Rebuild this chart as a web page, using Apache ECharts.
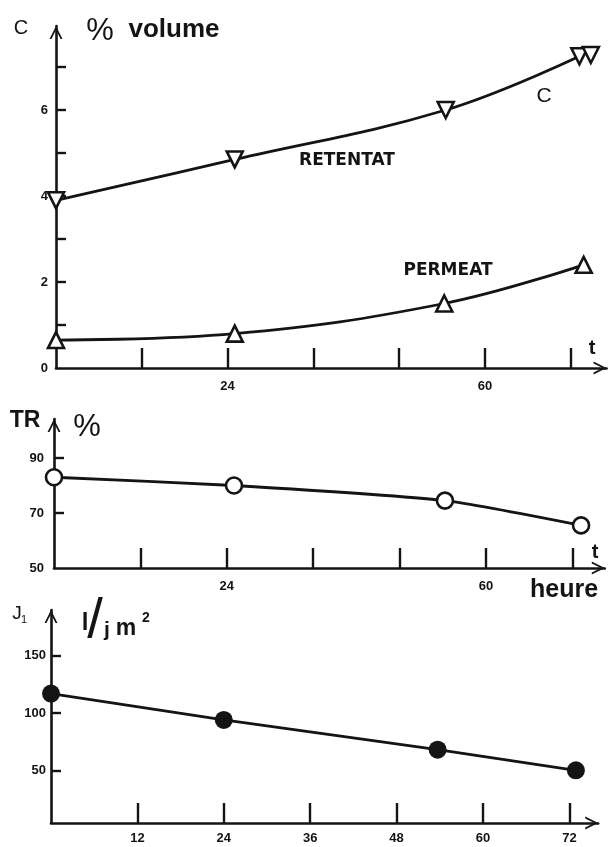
<!DOCTYPE html>
<html><head><meta charset="utf-8">
<script src="https://cdn.jsdelivr.net/npm/echarts@6/dist/echarts.min.js"></script>
<style>html,body{margin:0;padding:0;background:#fff}#c{width:616px;height:847px}</style>
</head><body><div id="c"></div><script>
// ---- data ----
const timeRetentat = [0, 25, 54.5, 73.2];
const retentat     = [3.9, 4.85, 6.0, 7.25];
const timeRetentatRep = [74.8];
const retentatRep     = [7.28];
const timePermeat  = [0, 25, 54.3, 73.8];
const permeat      = [0.65, 0.8, 1.5, 2.4];
const timeTR       = [0, 25, 54.3, 73.2];
const tr           = [83, 80, 74.5, 65.5];
const timeJ        = [0, 24, 53.7, 72.9];
const flux         = [117, 94, 68, 50];
const xTicks          = [12, 24, 36, 48, 60, 72];
const xLabelsTop      = [24, 60];
const xLabelsBottom   = [12, 24, 36, 48, 60, 72];
const yTicksC   = [1, 2, 3, 4, 5, 6, 7];
const yLabelsC  = [0, 2, 4, 6];
const yTicksTR  = [70, 90];
const yLabelsTR = [50, 70, 90];
const yTicksJ   = [50, 100, 150];
const yLabelsJ  = [50, 100, 150];

const INK = '#141414';
const FONT = '"Liberation Sans", Arial, sans-serif';
const ARROW = 'path://M0,12 L6,0 L12,12 L10.2,12 L6,3.6 L1.8,12 Z M5.98,-12 L6.02,-12 L6,-11.98 Z';
const zip = (a, b) => a.map((v, i) => [v, b[i]]);

function xAx(gi, max, labels, margin) {
  return {
    type: 'value', gridIndex: gi, min: 0, max: max,
    axisLine: { show: true, onZero: false, symbol: ['none', ARROW], symbolSize: [13, 26],
      lineStyle: { color: INK, width: 2.6 } },
    axisTick: { show: true, inside: true, length: 20, customValues: xTicks,
      lineStyle: { color: INK, width: 2.4 } },
    axisLabel: { customValues: labels, margin: margin, color: INK, fontSize: 13,
      fontWeight: 'bold', fontFamily: FONT },
    splitLine: { show: false }
  };
}
function yAx(gi, min, max, ticks, labels, margin) {
  return {
    type: 'value', gridIndex: gi, min: min, max: max,
    axisLine: { show: true, onZero: false, symbol: ['none', ARROW], symbolSize: [13, 26],
      lineStyle: { color: INK, width: 2.6 } },
    axisTick: { show: true, inside: true, length: 10, customValues: ticks,
      lineStyle: { color: INK, width: 2.4 } },
    axisLabel: { customValues: labels, margin: margin, color: INK, fontSize: 13,
      fontWeight: 'bold', fontFamily: FONT },
    splitLine: { show: false }
  };
}
const openMark = { color: '#fff', borderColor: INK, borderWidth: 2.6, opacity: 1 };
const lineSt = { color: INK, width: 2.8 };

function txt(text, x, y, font, align) {
  return { type: 'text', style: { text: text, x: x, y: y, font: font, fill: INK,
    textAlign: align || 'center', textVerticalAlign: 'middle' } };
}

const chart = echarts.init(document.getElementById('c'), null, { renderer: 'canvas' });
chart.setOption({
  backgroundColor: '#fff',
  animation: false,
  grid: [
    { left: 56, top: 26, width: 77 * 7.15, height: 342 },
    { left: 54, top: 419, width: 76.5 * 7.2, height: 149 },
    { left: 51, top: 610, width: 76 * 7.2, height: 213 }
  ],
  xAxis: [
    xAx(0, 77, xLabelsTop, 12),
    xAx(1, 76.5, xLabelsTop, 12),
    xAx(2, 76, xLabelsBottom, 9)
  ],
  yAxis: [
    yAx(0, 0, 342 / 43, yTicksC, yLabelsC, 8),
    yAx(1, 50, 50 + 149 / 2.75, yTicksTR, yLabelsTR, 10),
    yAx(2, 4, 4 + 213 / 1.145, yTicksJ, yLabelsJ, 5)
  ],
  series: [
    { type: 'line', xAxisIndex: 0, yAxisIndex: 0, data: zip(timeRetentat, retentat),
      smooth: 0.4, symbol: 'triangle', symbolRotate: 180, symbolSize: 16,
      showAllSymbol: true, itemStyle: openMark, lineStyle: lineSt, z: 3 },
    { type: 'scatter', xAxisIndex: 0, yAxisIndex: 0, data: zip(timeRetentatRep, retentatRep),
      symbol: 'triangle', symbolRotate: 180, symbolSize: 16, itemStyle: openMark, z: 4 },
    { type: 'line', xAxisIndex: 0, yAxisIndex: 0, data: zip(timePermeat, permeat),
      smooth: 0.4, symbol: 'triangle', symbolSize: 16,
      showAllSymbol: true, itemStyle: openMark, lineStyle: lineSt, z: 3 },
    { type: 'line', xAxisIndex: 1, yAxisIndex: 1, data: zip(timeTR, tr),
      smooth: 0.2, symbol: 'circle', symbolSize: 16,
      showAllSymbol: true, itemStyle: openMark, lineStyle: lineSt, z: 3 },
    { type: 'line', xAxisIndex: 2, yAxisIndex: 2, data: zip(timeJ, flux),
      smooth: false, symbol: 'circle', symbolSize: 18,
      showAllSymbol: true, itemStyle: { color: INK }, lineStyle: lineSt, z: 3 }
  ],
  graphic: [
    txt('C', 21, 28, '20px ' + FONT),
    txt('%', 100, 31, '31px ' + FONT),
    txt('volume', 174, 30, 'bold 26px ' + FONT),
    txt('RETENTAT', 347, 161, 'bold 17px "DejaVu Sans"'),
    txt('PERMEAT', 448, 271, 'bold 17px "DejaVu Sans"'),
    txt('C', 544, 96, '21px ' + FONT),
    txt('t', 592, 348, 'bold 20px ' + FONT),
    txt('TR', 25, 421, 'bold 23px ' + FONT),
    txt('%', 87, 427, '31px ' + FONT),
    txt('t', 595, 552, 'bold 20px ' + FONT),
    txt('heure', 564, 590, 'bold 25px ' + FONT),
    txt('J', 17, 614, '19px ' + FONT),
    txt('1', 24, 620, '11px ' + FONT),
    txt('l', 85, 623, 'bold 24px ' + FONT),
    txt('/', 95, 622, '56px ' + FONT),
    txt('j', 107, 630, 'bold 21px ' + FONT),
    txt('m', 126, 629, 'bold 23px ' + FONT),
    txt('2', 146, 618, 'bold 14px ' + FONT)
  ]
});
</script></body></html>
